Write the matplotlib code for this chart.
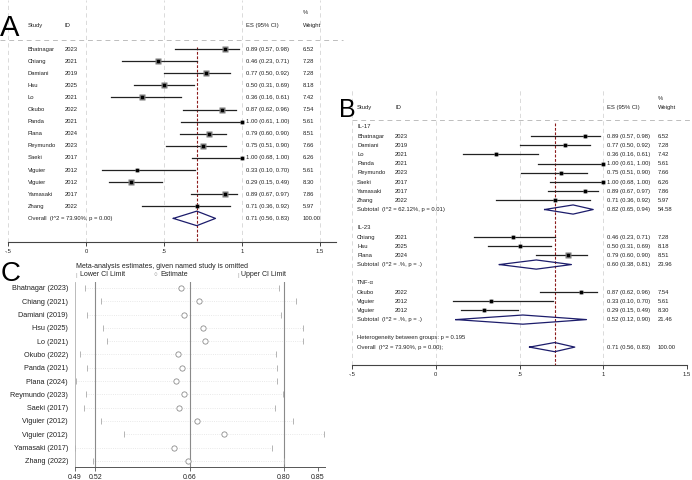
import numpy as np
import matplotlib
matplotlib.use("Agg")
import matplotlib.pyplot as plt

plt.rcParams['font.family'] = ['Liberation Sans', 'DejaVu Sans']

# ---- data ---------------------------------------------------------------
studies = ["Bhatnagar", "Chiang", "Damiani", "Hsu", "Lo", "Okubo", "Panda",
           "Plana", "Reymundo", "Saeki", "Viguier", "Viguier", "Yamasaki", "Zhang"]
years = [2023, 2021, 2019, 2025, 2021, 2022, 2021, 2024, 2023, 2017, 2012, 2012, 2017, 2022]
es = [0.89, 0.46, 0.77, 0.50, 0.36, 0.87, 1.00, 0.79, 0.75, 1.00, 0.33, 0.29, 0.89, 0.71]
ci_lo = [0.57, 0.23, 0.50, 0.31, 0.16, 0.62, 0.61, 0.60, 0.51, 0.68, 0.10, 0.15, 0.67, 0.36]
ci_hi = [0.98, 0.71, 0.92, 0.69, 0.61, 0.96, 1.00, 0.90, 0.90, 1.00, 0.70, 0.49, 0.97, 0.92]
weights = [6.52, 7.28, 7.28, 8.18, 7.42, 7.54, 5.61, 8.51, 7.66, 6.26, 5.61, 8.30, 7.86, 5.97]
cytokine = ["IL-17", "IL-23", "IL-17", "IL-23", "IL-17", "TNF-α", "IL-17",
            "IL-23", "IL-17", "IL-17", "TNF-α", "TNF-α", "IL-17", "IL-17"]

overall = (0.71, 0.56, 0.83)
overall_i2 = "73.90%"
overall_p = "0.00"

groups = ["IL-17", "IL-23", "TNF-α"]
sub_es = [0.82, 0.60, 0.52]
sub_lo = [0.65, 0.38, 0.12]
sub_hi = [0.94, 0.81, 0.90]
sub_w = [54.58, 23.96, 21.46]
sub_i2 = ["62.12%", ".%", ".%"]
sub_p = ["0.01", ".", "."]
het_p = "0.195"

# leave-one-out sensitivity (panel C)
loo_lower = [0.505, 0.529, 0.508, 0.532, 0.538, 0.498, 0.508, 0.492, 0.507,
             0.503, 0.529, 0.562, 0.490, 0.516]
loo_est = [0.648, 0.674, 0.652, 0.680, 0.683, 0.643, 0.649, 0.640, 0.652,
           0.645, 0.671, 0.711, 0.637, 0.658]
loo_upper = [0.792, 0.818, 0.796, 0.828, 0.828, 0.788, 0.790, 0.790, 0.798,
             0.787, 0.813, 0.860, 0.783, 0.800]
c_ticks = [0.49, 0.52, 0.66, 0.80, 0.85]
c_lines = [0.52, 0.66, 0.80]

# ---- figure --------------------------------------------------------------
W, H = 692, 480
fig = plt.figure(figsize=(W / 100, H / 100), dpi=100)


def add_ax(x0, y0, x1, y1):
    return fig.add_axes([x0 / W, 1 - y1 / H, (x1 - x0) / W, (y1 - y0) / H])


TXT = '#222222'
FS = 4.2
NAVY = '#1c1c6b'


def forest_frame(ax, hline_x, red_top, hdr_y):
    for side in ['left', 'right', 'top']:
        ax.spines[side].set_visible(False)
    ax.spines['bottom'].set_color('#444444')
    ax.spines['bottom'].set_linewidth(0.8)
    ax.set_xticks([-0.5, 0, 0.5, 1, 1.5])
    ax.set_xticklabels(["-.5", "0", ".5", "1", "1.5"])
    ax.tick_params(axis='x', length=3, width=0.7, color='#444444',
                   labelsize=FS, labelcolor=TXT, pad=2)
    ax.set_yticks([])
    for gx in [-0.5, 0, 0.5, 1, 1.5]:
        ax.axvline(gx, color='#d4d4d4', lw=0.6, ls=(0, (5, 4)), zorder=0)
    ax.plot(hline_x, [hdr_y, hdr_y], color='#bdbdbd', lw=0.7, ls=(0, (5, 4)),
            clip_on=False)
    ylo = ax.get_ylim()[0]
    ax.plot([overall[0], overall[0]], [red_top, ylo], color='#8b1a1a', lw=0.8,
            ls=(0, (2.5, 1.5)), zorder=1)


def study_row(ax, y, i, cols, box):
    xs, xid, xes, xw = cols
    ax.text(xs, y, studies[i], fontsize=FS, color=TXT, va='center')
    ax.text(xid, y, str(years[i]), fontsize=FS, color=TXT, va='center')
    ax.text(xes, y, f"{es[i]:.2f} ({ci_lo[i]:.2f}, {ci_hi[i]:.2f})",
            fontsize=FS, color=TXT, va='center')
    ax.text(xw, y, f"{weights[i]:.2f}", fontsize=FS, color=TXT, va='center')
    ax.plot([ci_lo[i], ci_hi[i]], [y, y], color='#222222', lw=0.9, zorder=2)
    ax.plot(es[i], y, 's', ms=box * np.sqrt(weights[i] / 7.5), color='#7a7a7a',
            mec='none', zorder=3)
    ax.plot(es[i], y, 's', ms=1.6, color='black', zorder=4)


def diamond(ax, y, c, lo, hi, h):
    ax.plot([lo, c, hi, c, lo], [y, y - h, y, y + h, y], color=NAVY, lw=0.9,
            zorder=3)


def header(ax, y, cols):
    xs, xid, xes, xw = cols
    ax.text(xs, y, "Study", fontsize=FS, color=TXT, va='center')
    ax.text(xid, y, "ID", fontsize=FS, color=TXT, va='center')
    ax.text(xes, y, "ES (95% CI)", fontsize=FS, color=TXT, va='center')
    ax.text(xw, y - 1, "%", fontsize=FS, color=TXT, va='center')
    ax.text(xw, y, "Weight", fontsize=FS, color=TXT, va='center')


# ---- panel A ---------------------------------------------------------------
axA = add_ax(8, 0, 335.6, 242)
axA.set_xlim(-0.5, 1.6)
axA.set_ylim(15.95, -4.05)
colsA = (-0.372, -0.135, 1.026, 1.39)
forest_frame(axA, [-0.551, 1.647], -0.17, -0.74)
header(axA, -1.98, colsA)
for i in range(len(studies)):
    study_row(axA, i, i, colsA, 3.9)
yo = len(studies)
axA.text(colsA[0], yo, f"Overall  (I^2 = {overall_i2}, p = {overall_p})",
         fontsize=FS, color=TXT, va='center')
axA.text(colsA[2], yo, f"{overall[0]:.2f} ({overall[1]:.2f}, {overall[2]:.2f})",
         fontsize=FS, color=TXT, va='center')
axA.text(colsA[3], yo, "100.00", fontsize=FS, color=TXT, va='center')
diamond(axA, yo, *overall, 0.6)

# ---- panel B ---------------------------------------------------------------
axB = add_ax(352, 90, 687, 365)
axB.set_xlim(-0.5, 1.5)
axB.set_ylim(25.95, -4.03)
colsB = (-0.470, -0.243, 1.022, 1.327)
forest_frame(axB, [-0.5, 1.53], -0.44, -0.76)
header(axB, -2.07, colsB)
row = 0
for g, gname in enumerate(groups):
    axB.text(colsB[0], row, gname, fontsize=FS, color=TXT, va='center')
    row += 1
    for i in range(len(studies)):
        if cytokine[i] == gname:
            study_row(axB, row, i, colsB, 3.4)
            row += 1
    axB.text(colsB[0], row, f"Subtotal  (I^2 = {sub_i2[g]}, p = {sub_p[g]})",
             fontsize=FS, color=TXT, va='center')
    axB.text(colsB[2], row, f"{sub_es[g]:.2f} ({sub_lo[g]:.2f}, {sub_hi[g]:.2f})",
             fontsize=FS, color=TXT, va='center')
    axB.text(colsB[3], row, f"{sub_w[g]:.2f}", fontsize=FS, color=TXT, va='center')
    diamond(axB, row, sub_es[g], sub_lo[g], sub_hi[g], 0.5)
    row += 2
axB.text(colsB[0], row, f"Heterogeneity between groups: p = {het_p}",
         fontsize=FS, color=TXT, va='center')
row += 1
axB.text(colsB[0], row, f"Overall  (I^2 = {overall_i2}, p = {overall_p});",
         fontsize=FS, color=TXT, va='center')
axB.text(colsB[2], row, f"{overall[0]:.2f} ({overall[1]:.2f}, {overall[2]:.2f})",
         fontsize=FS, color=TXT, va='center')
axB.text(colsB[3], row, "100.00", fontsize=FS, color=TXT, va='center')
diamond(axB, row, *overall, 0.5)

# ---- panel C ---------------------------------------------------------------
axC = add_ax(75, 282, 325, 467)
axC.set_xlim(0.49, 0.861)
axC.set_ylim(13.46, -0.45)
yC = np.arange(len(studies))
for side in ['right', 'top']:
    axC.spines[side].set_visible(False)
axC.spines['left'].set_color('#b0b0b0')
axC.spines['left'].set_linewidth(0.6)
axC.spines['bottom'].set_color('#555555')
axC.spines['bottom'].set_linewidth(0.7)
for v in c_lines:
    axC.axvline(v, color='#8a8a8a', lw=0.8, zorder=1)
for k in range(len(studies)):
    axC.plot([loo_lower[k], loo_upper[k]], [k, k], color='#e2e2e2', lw=0.6,
             ls=':', zorder=0)
axC.plot(loo_lower, yC, '|', ms=4.5, mew=0.6, color='#a8a8a8', clip_on=False)
axC.plot(loo_upper, yC, '|', ms=4.5, mew=0.6, color='#a8a8a8', clip_on=False)
axC.plot(loo_est, yC, 'o', ms=3.8, mfc='white', mec='#8c8c8c', mew=0.6, zorder=3)
axC.set_yticks(yC)
axC.set_yticklabels([f"{s} ({y})" for s, y in zip(studies, years)])
axC.tick_params(axis='y', length=0, pad=5, labelsize=5.2, labelcolor=TXT)
axC.set_xticks(c_ticks)
axC.set_xticklabels([f"{t:.2f}" for t in c_ticks])
axC.tick_params(axis='x', length=3, width=0.6, color='#555555', labelsize=5.0,
                labelcolor=TXT, pad=2)

fig.text(76 / W, 1 - 266 / H, "Meta-analysis estimates, given named study is omitted",
         fontsize=5.0, color=TXT, va='center')
fig.text(76 / W, 1 - 275 / H, "|", fontsize=4.5, color='#a8a8a8', va='center')
fig.text(80 / W, 1 - 275 / H, "Lower CI Limit", fontsize=5.0, color=TXT, va='center')
fig.text(153 / W, 1 - 275 / H, "○", fontsize=4.5, color='#8c8c8c', va='center')
fig.text(160 / W, 1 - 275 / H, "Estimate", fontsize=5.0, color=TXT, va='center')
fig.text(237 / W, 1 - 275 / H, "|", fontsize=4.5, color='#a8a8a8', va='center')
fig.text(241 / W, 1 - 275 / H, "Upper CI Limit", fontsize=5.0, color=TXT, va='center')

# ---- panel letters ------------------------------------------------------
fig.text(0 / W, 1 - 36 / H, "A", fontsize=21, color='black', va='baseline')
fig.text(339 / W, 1 - 117 / H, "B", fontsize=18, color='black', va='baseline')
fig.text(1 / W, 1 - 281 / H, "C", fontsize=20, color='black', va='baseline')

fig.savefig("out.png", dpi=100)
